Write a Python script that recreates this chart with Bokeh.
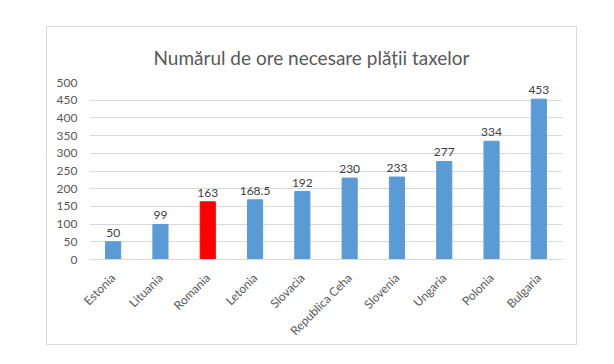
import math
from bokeh.plotting import figure
from bokeh.models import ColumnDataSource, LabelSet, Range1d, FixedTicker
from bokeh.core.properties import value
from bokeh.embed import file_html
from bokeh.resources import INLINE

countries = ["Estonia", "Lituania", "Romania", "Letonia", "Slovacia",
             "Republica Ceha", "Slovenia", "Ungaria", "Polonia", "Bulgaria"]
hours = [50, 99, 163, 168.5, 192, 230, 233, 277, 334, 453]
labels = ["50", "99", "163", "168.5", "192", "230", "233", "277", "334", "453"]
colors = ["#5b9bd5", "#5b9bd5", "#ff0000", "#5b9bd5", "#5b9bd5",
          "#5b9bd5", "#5b9bd5", "#5b9bd5", "#5b9bd5", "#5b9bd5"]
y_ticks = [0, 50, 100, 150, 200, 250, 300, 350, 400, 450, 500]
title_text = "Numărul de ore necesare plății taxelor"

FONT = "Lato"

src = ColumnDataSource(dict(x=countries, top=hours, lab=labels, color=colors))

p = figure(x_range=countries, y_range=Range1d(0, 500),
           width=531, height=319, output_backend="svg", toolbar_location=None,
           title=title_text,
           min_border_left=42, min_border_right=16, min_border_top=55, min_border_bottom=87,
           margin=(26, 0, 0, 46))
p.styles = {"border": "1px solid #d9d9d9", "box-sizing": "border-box"}

p.vbar(x="x", top="top", width=0.32, color="color", source=src, line_color="color")

p.add_layout(LabelSet(x="x", y="top", text="lab", source=src, y_offset=5,
                      text_align="center", text_baseline="bottom",
                      text_font=value(FONT), text_font_size="12px", text_color="#404040"))

p.title.text_font = FONT
p.title.text_font_size = "19px"
p.title.text_font_style = "normal"
p.title.text_color = "#595959"
p.title.align = "left"
p.title.offset = 64
p.title.standoff = 28

p.outline_line_color = None
p.background_fill_color = "white"
p.border_fill_color = "white"

p.xgrid.grid_line_color = None
p.ygrid.grid_line_color = "#d9d9d9"
p.ygrid.ticker = FixedTicker(ticks=y_ticks)

p.yaxis.ticker = FixedTicker(ticks=y_ticks)
p.yaxis.axis_line_color = None
p.yaxis.major_tick_line_color = None
p.yaxis.minor_tick_line_color = None
p.yaxis.major_label_text_font = FONT
p.yaxis.major_label_text_font_size = "12px"
p.yaxis.major_label_text_color = "#595959"
p.yaxis.major_label_standoff = 6

p.xaxis.axis_line_color = "#d9d9d9"
p.xaxis.major_tick_line_color = None
p.xaxis.minor_tick_line_color = None
p.xaxis.major_label_orientation = math.pi / 4
p.xaxis.major_label_text_font = FONT
p.xaxis.major_label_text_font_size = "12px"
p.xaxis.major_label_text_color = "#595959"
p.xaxis.major_label_standoff = 10
p.x_range.range_padding = 0

open("out.html", "w").write(file_html(p, INLINE))
